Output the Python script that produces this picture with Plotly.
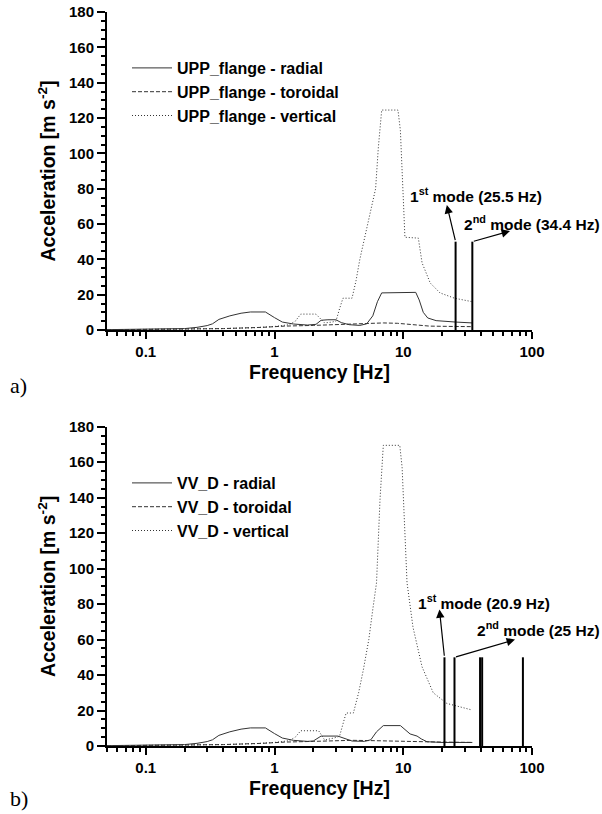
import numpy as np
import plotly.graph_objects as go

# ---------------- Panel a) UPP_flange ----------------
a_rad_f = [0.05, 0.1, 0.15, 0.2, 0.25, 0.3, 0.33, 0.37, 0.45, 0.55, 0.65, 0.85, 1.0, 1.15, 1.4, 1.8,
           2.1, 2.3, 2.6, 3.0, 3.3, 3.8, 4.6, 5.2, 5.8, 6.3, 6.8, 9.0, 12.5, 13.3, 14.3, 15.5, 18, 25.5, 34.4]
a_rad_v = [0.2, 0.3, 0.5, 0.8, 1.5, 2.5, 3.5, 6, 8, 9.5, 10.2, 10.2, 7, 4.5, 3.4, 2.8,
           3.2, 5.5, 5.8, 5.8, 4.2, 3.0, 2.6, 3.5, 8, 16, 21, 21.3, 21.3, 17, 10, 6.8, 5.3, 4.5, 4.0]

a_tor_f = [0.05, 0.2, 0.4, 0.8, 1.2, 2.0, 3.0, 5.0, 7.0, 9.0, 12.0, 16.0, 25.0, 34.4]
a_tor_v = [0.1, 0.3, 0.8, 1.5, 2.2, 2.6, 3.0, 3.5, 4.0, 3.8, 3.0, 2.2, 2.0, 1.9]

a_ver_f = [0.05, 0.2, 0.4, 0.7, 1.0, 1.3, 1.45, 1.6, 2.1, 2.3, 2.45, 2.8, 3.0, 3.2, 3.4, 4.0,
           4.3, 4.6, 5.2, 5.8, 6.1, 6.4, 6.8, 9.1, 9.5, 10.0, 10.3, 13.1, 14.0, 16.2, 19.3, 25.0, 34.4]
a_ver_v = [0.1, 0.3, 0.8, 1.3, 2.0, 3.0, 5.0, 9.0, 9.0, 6.0, 4.0, 4.5, 5.0, 12, 18, 18,
           28, 40, 58, 72, 80, 103, 124.5, 124.5, 113, 75, 52.5, 52, 38, 26.6, 21, 18, 16]

a_modes = [25.5, 34.4]
a_mode_labels = ["1<sup>st</sup> mode (25.5 Hz)", "2<sup>nd</sup> mode (34.4 Hz)"]
a_names = ["UPP_flange - radial", "UPP_flange - toroidal", "UPP_flange - vertical"]

# ---------------- Panel b) VV_D ----------------
b_rad_f = [0.05, 0.1, 0.15, 0.2, 0.25, 0.3, 0.33, 0.37, 0.45, 0.55, 0.65, 0.85, 1.0, 1.15, 1.4, 1.8,
           2.0, 2.3, 3.1, 3.6, 4.0, 5.0, 5.6, 6.2, 7.0, 9.5, 10.5, 11.3, 12.8, 13.8, 15.3, 20, 34.4]
b_rad_v = [0.2, 0.3, 0.5, 0.8, 1.5, 2.5, 3.5, 6, 8, 9.5, 10.2, 10.2, 7, 4.5, 3.2, 2.6,
           2.8, 5.6, 5.6, 3.8, 2.8, 2.6, 3.5, 8, 11.5, 11.5, 8.5, 6.8, 5.6, 4.0, 2.4, 2.0, 2.0]

b_tor_f = [0.05, 0.2, 0.4, 0.8, 1.2, 2.0, 3.0, 4.0, 6.0, 10.0, 20.0, 34.4]
b_tor_v = [0.1, 0.3, 0.8, 1.5, 2.2, 2.6, 3.0, 3.2, 3.0, 2.5, 2.2, 2.0]

b_ver_f = [0.05, 0.2, 0.4, 0.7, 1.0, 1.3, 1.45, 1.6, 2.2, 2.35, 2.45, 2.9, 3.2, 3.45, 3.6, 4.1,
           4.5, 4.9, 5.4, 5.8, 6.2, 6.6, 7.0, 9.4, 9.8, 10.3, 10.7, 11.9, 14.0, 17.1, 21.8, 34.2]
b_ver_v = [0.1, 0.3, 0.8, 1.3, 2.0, 3.0, 5.0, 8.6, 8.6, 5.5, 3.4, 4.5, 5.5, 14, 18.6, 18.6,
           30, 43, 60, 77, 92, 139, 169.5, 169.5, 157, 120, 92, 67, 44.6, 30, 24, 20.3]

b_modes = [20.9, 25, 39.5, 41, 85]
b_mode_labels = ["1<sup>st</sup> mode (20.9 Hz)", "2<sup>nd</sup> mode (25 Hz)"]
b_names = ["VV_D - radial", "VV_D - toroidal", "VV_D - vertical"]

mode_level = 50

x_ticks = [0.1, 1, 10, 100]
x_ticktext = ["0.1", "1", "10", "100"]
x_minor = [m * 10.0 ** e for e in (-2, -1, 0, 1) for m in range(2, 10) if m * 10.0 ** e >= 0.05]

FONT = "Liberation Sans, Arial, sans-serif"
LINE_COL = "#333333"

fig = go.Figure()

panels = [
    ("x", "y", "legend", a_names, (a_rad_f, a_rad_v), (a_tor_f, a_tor_v), (a_ver_f, a_ver_v), a_modes),
    ("x2", "y2", "legend2", b_names, (b_rad_f, b_rad_v), (b_tor_f, b_tor_v), (b_ver_f, b_ver_v), b_modes),
]
for xa, ya, leg, names, rad, tor, ver, modes in panels:
    fig.add_trace(go.Scatter(x=rad[0], y=rad[1], name=names[0], mode="lines", xaxis=xa, yaxis=ya,
                             legend=leg, line=dict(color=LINE_COL, width=1, dash="solid")))
    fig.add_trace(go.Scatter(x=tor[0], y=tor[1], name=names[1], mode="lines", xaxis=xa, yaxis=ya,
                             legend=leg, line=dict(color=LINE_COL, width=1, dash="4px,2px")))
    fig.add_trace(go.Scatter(x=ver[0], y=ver[1], name=names[2], mode="lines", xaxis=xa, yaxis=ya,
                             legend=leg, line=dict(color=LINE_COL, width=1, dash="1px,2px")))
    mx, my = [], []
    for m in modes:
        mx += [m, m, None]
        my += [0, mode_level, None]
    fig.add_trace(go.Scatter(x=mx, y=my, mode="lines", xaxis=xa, yaxis=ya, showlegend=False,
                             line=dict(color="black", width=2)))

tickfont = dict(family=FONT, size=15, color="black", weight="bold")
titlefont = dict(family=FONT, size=19.5, color="black", weight="bold")

def xax(anchor):
    return dict(type="log", range=[np.log10(0.05), 2], tickvals=x_ticks, ticktext=x_ticktext,
                ticks="outside", ticklen=7, tickwidth=2, tickcolor="black",
                showline=True, linewidth=2, linecolor="black", showgrid=False, zeroline=False,
                minor=dict(tickvals=x_minor, ticks="outside", ticklen=4, tickwidth=1.5, tickcolor="black",
                           showgrid=False),
                tickfont=tickfont, anchor=anchor, domain=[0, 1], automargin=False,
                title=dict(text="Frequency [Hz]", font=titlefont, standoff=6))

def yax(anchor, dom):
    return dict(range=[0, 180], dtick=20, tick0=0, ticks="outside", ticklen=8, tickwidth=2, tickcolor="black",
                showline=True, linewidth=2, linecolor="black", showgrid=False, zeroline=False,
                minor=dict(dtick=5, ticks="outside", ticklen=4, tickwidth=1.5, tickcolor="black", showgrid=False),
                tickfont=tickfont, anchor=anchor, domain=dom, automargin=False,
                title=dict(text="Acceleration [m s<sup>-2</sup>]", font=titlefont, standoff=8))

L, R, W, H = 107, 70, 602, 814

def px(xp):
    return (xp - L) / (W - L - R)

def py(yp):
    return 1 - yp / H

legfont = dict(family=FONT, size=16, color="black", weight="bold")

fig.update_layout(
    width=W, height=H,
    margin=dict(l=L, r=R, t=0, b=0, autoexpand=False),
    paper_bgcolor="white", plot_bgcolor="white",
    xaxis=xax("y"), yaxis=yax("x", [py(330), py(12)]),
    xaxis2=xax("y2"), yaxis2=yax("x2", [py(746), py(426.7)]),
    legend=dict(x=px(127), y=py(51), xanchor="left", yanchor="top", font=legfont,
                bgcolor="rgba(0,0,0,0)", tracegroupgap=0, itemwidth=40),
    legend2=dict(x=px(127), y=py(466), xanchor="left", yanchor="top", font=legfont,
                 bgcolor="rgba(0,0,0,0)", tracegroupgap=0, itemwidth=40),
    showlegend=True,
)

annfont = dict(family=FONT, size=15.5, color="black", weight="bold")
ann = []
# arrows: tail at the top of the mode line, head near the label
arrow_heads = [
    ("x", "y", a_modes[0], (21.8, 70.7)),
    ("x", "y", a_modes[1], (67.5, 56.0)),
    ("x2", "y2", b_modes[0], (19.1, 77.0)),
    ("x2", "y2", b_modes[1], (73.8, 60.0)),
]
for xr, yr, m, (hx, hy) in arrow_heads:
    ann.append(dict(x=np.log10(hx), y=hy, ax=np.log10(m), ay=mode_level, xref=xr, yref=yr,
                    axref=xr, ayref=yr, text="", showarrow=True, arrowhead=2, arrowsize=1.4,
                    arrowwidth=1.2, arrowcolor="black"))

label_pos = [(a_mode_labels[0], 475.5, 195), (a_mode_labels[1], 531.5, 223),
             (b_mode_labels[0], 484, 602), (b_mode_labels[1], 538.5, 629)]
for t, xp, yp in label_pos:
    ann.append(dict(x=px(xp), y=py(yp), xref="paper", yref="paper", text=t, showarrow=False,
                    xanchor="center", yanchor="middle", font=annfont))

serif = dict(family="Liberation Serif, Times New Roman, serif", size=22, color="black")
ann.append(dict(x=px(8), y=py(385), xref="paper", yref="paper", text="a)", showarrow=False,
                xanchor="left", yanchor="middle", font=serif))
ann.append(dict(x=px(8), y=py(798), xref="paper", yref="paper", text="b)", showarrow=False,
                xanchor="left", yanchor="middle", font=serif))

fig.update_layout(annotations=ann)

fig.write_html("out.html", config={"displayModeBar": False},
               post_script="document.body.style.margin='0';document.body.style.overflow='hidden';")
